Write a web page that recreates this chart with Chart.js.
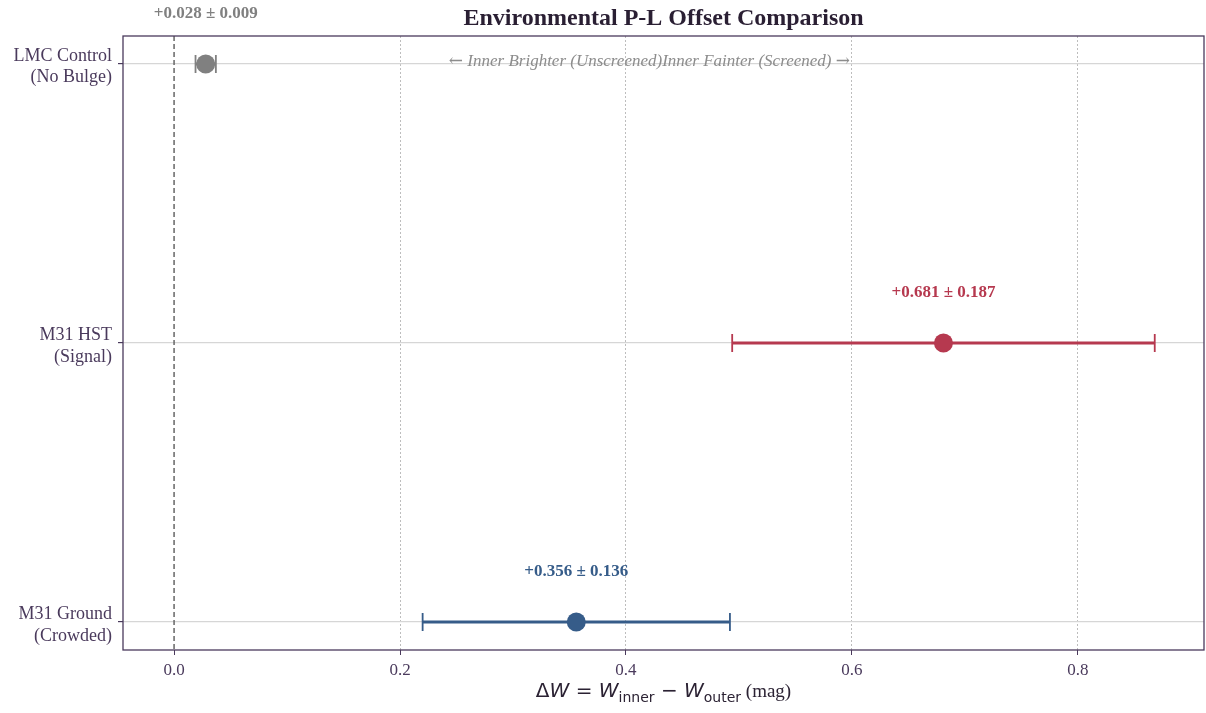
<!DOCTYPE html>
<html>
<head>
<meta charset="utf-8">
<script src="https://cdn.jsdelivr.net/npm/chart.js@4/dist/chart.umd.min.js"></script>
<style>
  html,body{margin:0;padding:0;background:#fff;}
  #wrap{width:1206px;height:713px;position:relative;}
</style>
</head>
<body>
<div id="wrap"><canvas id="offsetChart"></canvas></div>
<script>
// samples (top to bottom) and their P-L offsets
const groups = [['LMC Control', '(No Bulge)'], ['M31 HST', '(Signal)'], ['M31 Ground', '(Crowded)']];
const offsets = [0.028, 0.681, 0.356];
const errors = [0.009, 0.187, 0.136];
const colors = ['#808080', '#b6394f', '#365c89'];
const xTicks = [0, 0.2, 0.4, 0.6, 0.8];

const SERIF = "'Liberation Serif', 'Times New Roman', serif";
const INK = '#4a3a5c';

// draws a run of differently styled text pieces starting at x
function drawRun(ctx, parts, x, y){
  parts.forEach(p => { ctx.font = p.f; ctx.fillText(p.t, x, y + (p.dy || 0)); x += ctx.measureText(p.t).width; });
}
function runWidth(ctx, parts){
  let w = 0;
  parts.forEach(p => { ctx.font = p.f; w += ctx.measureText(p.t).width; });
  return w;
}

const extras = {
  id: 'extras',
  beforeDatasetsDraw(chart){
    const ctx = chart.ctx, xs = chart.scales.x, ys = chart.scales.y, a = chart.chartArea;
    // zero reference line
    ctx.save();
    ctx.strokeStyle = '#666'; ctx.lineWidth = 1.5; ctx.setLineDash([5, 3]);
    const x0 = xs.getPixelForValue(0);
    ctx.beginPath(); ctx.moveTo(x0, a.top); ctx.lineTo(x0, a.bottom); ctx.stroke();
    ctx.restore();
    // error bars
    offsets.forEach((v, i) => {
      const y = ys.getPixelForValue(i);
      const l = xs.getPixelForValue(v - errors[i]), r = xs.getPixelForValue(v + errors[i]);
      ctx.save();
      ctx.strokeStyle = colors[i];
      ctx.lineWidth = 3;
      ctx.beginPath(); ctx.moveTo(l, y); ctx.lineTo(r, y); ctx.stroke();
      ctx.lineWidth = 1.8;
      ctx.beginPath();
      ctx.moveTo(l, y - 9); ctx.lineTo(l, y + 9);
      ctx.moveTo(r, y - 9); ctx.lineTo(r, y + 9);
      ctx.stroke();
      ctx.restore();
    });
  },
  afterDraw(chart){
    const ctx = chart.ctx, xs = chart.scales.x, ys = chart.scales.y, a = chart.chartArea;
    ctx.save();
    // value labels
    ctx.font = 'bold 17px ' + SERIF;
    ctx.textAlign = 'center'; ctx.textBaseline = 'middle';
    offsets.forEach((v, i) => {
      ctx.fillStyle = colors[i];
      const txt = '+' + v.toFixed(3) + ' \u00b1 ' + errors[i].toFixed(3);
      ctx.fillText(txt, xs.getPixelForValue(v), ys.getPixelForValue(i) - 50);
    });
    // direction notes
    const itf = 'italic 17px ' + SERIF, arrf = '17px DejaVu Serif';
    const left = [{t: '\u2190', f: arrf}, {t: ' Inner Brighter (Unscreened)', f: itf}];
    const right = [{t: 'Inner Fainter (Screened) ', f: itf}, {t: '\u2192', f: arrf}];
    ctx.fillStyle = '#8c8c8c';
    ctx.textAlign = 'left';
    const xm = xs.getPixelForValue(0.432), yn = ys.getPixelForValue(0) - 2;
    drawRun(ctx, left, xm - runWidth(ctx, left), yn);
    drawRun(ctx, right, xm, yn);
    // frame
    ctx.strokeStyle = INK; ctx.lineWidth = 1.3;
    ctx.strokeRect(a.left, a.top, a.right - a.left, a.bottom - a.top);
    // title
    ctx.font = 'bold 24px ' + SERIF;
    ctx.fillStyle = '#2a1f33';
    ctx.textAlign = 'center';
    ctx.fillText('Environmental P-L Offset Comparison', (a.left + a.right) / 2, 19);
    // x axis title with subscripts
    const big = '20px DejaVu Sans', it = 'italic 20px DejaVu Sans', sub = '14px DejaVu Sans';
    const parts = [
      {t: '\u0394', f: big}, {t: 'W', f: it}, {t: ' = ', f: big}, {t: 'W', f: it},
      {t: 'inner', f: sub, dy: 5}, {t: ' \u2212 ', f: big}, {t: 'W', f: it},
      {t: 'outer', f: sub, dy: 5}, {t: ' (mag)', f: '19px ' + SERIF}
    ];
    ctx.textAlign = 'left'; ctx.textBaseline = 'alphabetic'; ctx.fillStyle = '#2b2233';
    drawRun(ctx, parts, (a.left + a.right) / 2 - runWidth(ctx, parts) / 2, 697);
    ctx.restore();
  }
};

new Chart(document.getElementById('offsetChart'), {
  type: 'scatter',
  data: {
    datasets: [{
      data: offsets.map((v, i) => ({x: v, y: i})),
      pointRadius: 9.5,
      pointHoverRadius: 9.5,
      pointBackgroundColor: colors,
      pointBorderWidth: 0
    }]
  },
  options: {
    responsive: true,
    maintainAspectRatio: false,
    animation: false,
    events: [],
    layout: {autoPadding: false, padding: {top: 36, right: 2, left: 0, bottom: 0}},
    plugins: {legend: {display: false}, tooltip: {enabled: false}, title: {display: false}},
    scales: {
      x: {
        type: 'linear', min: -0.0452, max: 0.9116,
        afterBuildTicks: s => { s.ticks = xTicks.map(v => ({value: v})); },
        afterFit: s => { s.height = 63; },
        ticks: {callback: v => v.toFixed(1), font: {family: SERIF, size: 17}, color: INK, padding: 5},
        grid: {
          color: c => (c.tick && c.tick.value === 0) ? 'rgba(0,0,0,0)' : '#bdbdbd',
          lineWidth: 1, tickColor: INK, tickLength: 5, tickBorderDash: []
        },
        border: {display: false, dash: [2, 2]}
      },
      y: {
        type: 'linear', reverse: true, min: -0.1, max: 2.1,
        afterBuildTicks: s => { s.ticks = groups.map((g, i) => ({value: i})); },
        afterFit: s => { s.width = 123; },
        ticks: {callback: v => groups[v], font: {family: SERIF, size: 18, lineHeight: 1.2}, color: INK, padding: 6, labelOffset: 3},
        grid: {color: '#d6d6d6', lineWidth: 1.2, tickColor: INK, tickLength: 5},
        border: {display: false}
      }
    }
  },
  plugins: [extras]
});
</script>
</body>
</html>
